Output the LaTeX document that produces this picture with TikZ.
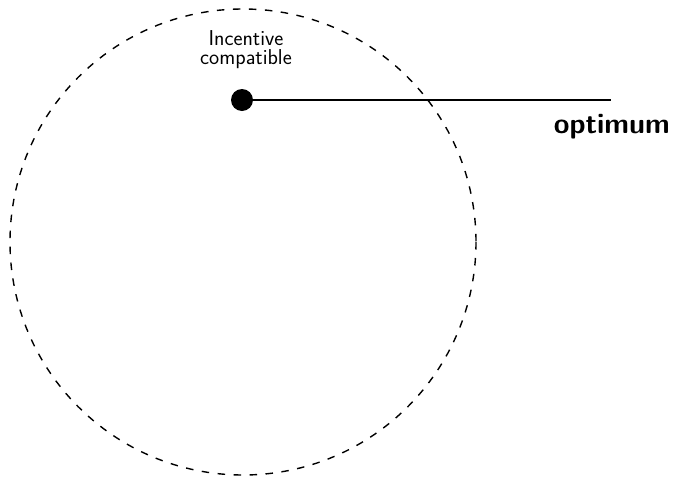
\documentclass[tikz,border=0pt]{standalone}
\begin{document}
\begin{tikzpicture}[x=1pt,y=-1pt,
  region/.style={draw=black, line width=1.4pt, dash pattern=on 7.5pt off 8.5pt},
  optdot/.style={circle, fill=black, inner sep=0pt, minimum size=22pt},
  optline/.style={draw=black, line width=2pt},
  smalllabel/.style={font=\fontsize{21.5}{18.5}\selectfont\sffamily, align=center, inner sep=0pt},
  biglabel/.style={font=\fontsize{28.5}{30}\selectfont\sffamily\bfseries, inner sep=0pt, anchor=base east}]
\useasboundingbox (0,0) rectangle (673,477);
\coordinate (c) at (243,242);
\draw[region] (c) circle[radius=233];
\node[optdot] (dot) at (242,100) {};
\coordinate (lineend) at (611,100);
\draw[optline] (dot.center) -- (lineend);
\node[smalllabel] (ic) at (246,49.5) {Incentive\\compatible};
\node[biglabel] (opt) at (670,133) {optimum};
\end{tikzpicture}
\end{document}
